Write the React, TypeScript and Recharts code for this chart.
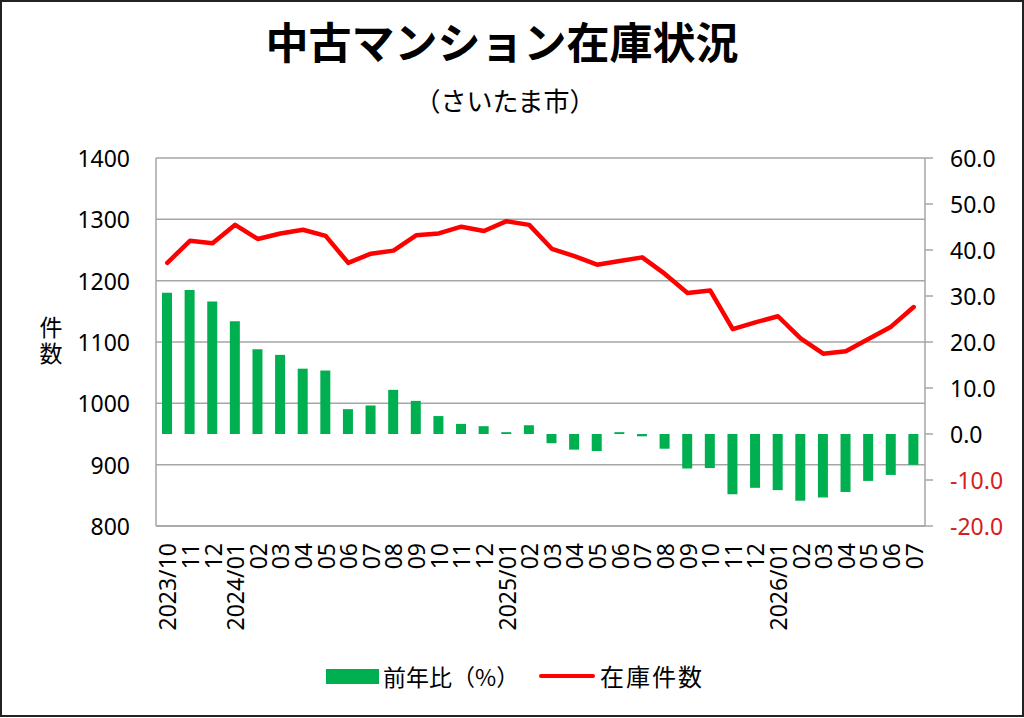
import { Bar, CartesianGrid, ComposedChart, Line, XAxis, YAxis } from 'recharts'

const MONTHS = [
  '2023/10', '11', '12',
  '2024/01', '02', '03', '04', '05', '06', '07', '08', '09', '10', '11', '12',
  '2025/01', '02', '03', '04', '05', '06', '07', '08', '09', '10', '11', '12',
  '2026/01', '02', '03', '04', '05', '06', '07',
]

// 在庫件数（左軸）
const STOCK = [
  1229, 1265, 1261,
  1291, 1268, 1277, 1283, 1273, 1229, 1244, 1249, 1274, 1277, 1288, 1281,
  1297, 1291, 1252, 1240, 1226, 1232, 1238, 1211, 1180, 1184, 1121, 1132,
  1142, 1106, 1081, 1085, 1105, 1125, 1157,
]

// 前年比 %（右軸）
const YOY = [
  30.7, 31.3, 28.8,
  24.5, 18.4, 17.2, 14.2, 13.8, 5.4, 6.2, 9.6, 7.2, 3.9, 2.2, 1.7,
  0.4, 1.9, -2.0, -3.4, -3.7, 0.4, -0.5, -3.2, -7.5, -7.4, -13.1, -11.7,
  -12.2, -14.5, -13.8, -12.6, -10.2, -8.9, -6.7,
]

const LEFT_TICKS = [800, 900, 1000, 1100, 1200, 1300, 1400]
const RIGHT_TICKS = [-20, -10, 0, 10, 20, 30, 40, 50, 60]

const data = MONTHS.map((label, i) => ({ label, stock: STOCK[i], yoy: YOY[i] }))

const GREEN = '#00b050'
const RED = '#ff0000'
const GRID = '#a6a6a6'
const NUM_FONT = '"Noto Sans", "Noto Sans CJK JP", sans-serif'
const JP_FONT = '"Noto Sans CJK JP", sans-serif'

function MonthTick({ x, y, payload }: any) {
  return (
    <text
      x={x}
      y={y}
      transform={`rotate(-90, ${x}, ${y})`}
      textAnchor="end"
      dominantBaseline="central"
      fontFamily={NUM_FONT}
      fontSize={23}
      fill="#000"
    >
      {payload.value}
    </text>
  )
}

function RightTick({ x, y, payload }: any) {
  const v = Number(payload.value)
  return (
    <text
      x={x}
      y={y}
      textAnchor="start"
      dominantBaseline="central"
      fontFamily={NUM_FONT}
      fontSize={23}
      fill={v < 0 ? '#d42020' : '#000'}
    >
      {v.toFixed(1)}
    </text>
  )
}

function LeftTick({ x, y, payload }: any) {
  return (
    <text
      x={x}
      y={y}
      textAnchor="end"
      dominantBaseline="central"
      fontFamily={NUM_FONT}
      fontSize={23}
      fill="#000"
    >
      {payload.value}
    </text>
  )
}

const abs = (left: number, top: number, extra: React.CSSProperties = {}): React.CSSProperties => ({
  position: 'absolute',
  left,
  top,
  whiteSpace: 'nowrap',
  color: '#000',
  ...extra,
})

export default function App() {
  return (
    <div
      style={{
        position: 'absolute',
        left: 0,
        top: 0,
        width: 1024,
        height: 718,
        background: '#fff',
        fontFamily: JP_FONT,
      }}
    >
      <div style={abs(0, 14, { width: 1004, textAlign: 'center', fontSize: 43, fontWeight: 700, lineHeight: '52px' })}>
        中古マンション在庫状況
      </div>
      <div style={abs(0, 83, { width: 1010, textAlign: 'center', fontSize: 26, lineHeight: '34px' })}>
        （さいたま市）
      </div>

      {/* 縦書きの軸タイトル */}
      <div style={abs(39, 316, { fontSize: 23, lineHeight: '24px', writingMode: 'vertical-rl', letterSpacing: 3 })}>
        件数
      </div>

      <div style={{ position: 'absolute', left: 0, top: 0 }}>
        <ComposedChart
          width={1024}
          height={718}
          data={data}
          margin={{ top: 158, right: 19, bottom: 92, left: 56 }}
          barSize={10}
        >
          <CartesianGrid yAxisId="left" vertical={false} stroke={GRID} strokeWidth={1.5} />
          <XAxis
            dataKey="label"
            interval={0}
            tickLine={false}
            tickSize={0}
            tickMargin={17}
            height={100}
            axisLine={{ stroke: GRID, strokeWidth: 1.5 }}
            tick={<MonthTick />}
          />
          <YAxis
            yAxisId="left"
            orientation="left"
            width={100}
            domain={[800, 1400]}
            ticks={LEFT_TICKS}
            tickLine={false}
            tickSize={0}
            tickMargin={26}
            axisLine={{ stroke: GRID, strokeWidth: 1.5 }}
            tick={<LeftTick />}
            allowDataOverflow
          />
          <YAxis
            yAxisId="right"
            orientation="right"
            width={80}
            domain={[-20, 60]}
            ticks={RIGHT_TICKS}
            tickSize={8}
            tickMargin={17}
            tickLine={{ stroke: GRID, strokeWidth: 1.5 }}
            axisLine={{ stroke: GRID, strokeWidth: 1.5 }}
            tick={<RightTick />}
            allowDataOverflow
          />
          <Bar yAxisId="right" dataKey="yoy" fill={GREEN} isAnimationActive={false} />
          <Line
            yAxisId="left"
            type="linear"
            dataKey="stock"
            stroke={RED}
            strokeWidth={4.5}
            strokeLinejoin="round"
            strokeLinecap="round"
            dot={false}
            activeDot={false}
            isAnimationActive={false}
          />
        </ComposedChart>
      </div>

      {/* 凡例 */}
      <div style={abs(326, 669, { width: 53, height: 15, background: GREEN })} />
      <div style={abs(383, 660, { fontSize: 23, lineHeight: '32px' })}>前年比（%）</div>
      <div style={abs(539, 674, { width: 56, height: 4, borderRadius: 2, background: RED })} />
      <div style={abs(600, 660, { fontSize: 24, lineHeight: '32px', letterSpacing: 2 })}>在庫件数</div>

      <div
        style={{
          position: 'absolute',
          left: 0,
          top: 0,
          width: 1024,
          height: 717,
          boxSizing: 'border-box',
          border: '2px solid #222',
          pointerEvents: 'none',
        }}
      />
    </div>
  )
}
